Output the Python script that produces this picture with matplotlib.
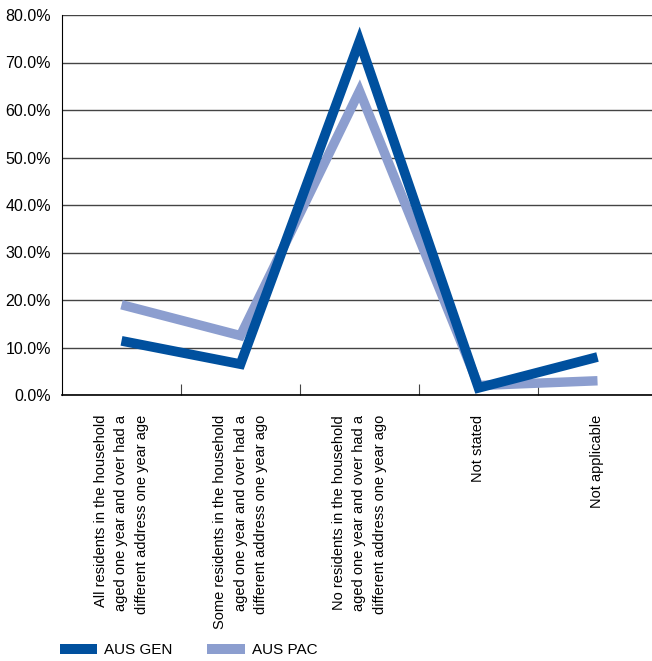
import matplotlib
matplotlib.use("Agg")
import matplotlib.pyplot as plt
from matplotlib.lines import Line2D
from matplotlib.ticker import FuncFormatter

plt.rcParams['font.family'] = ['Liberation Sans', 'DejaVu Sans']

categories = [
    "All residents in the household\naged one year and over had a\ndifferent address one year age",
    "Some residents in the household\naged one year and over had a\ndifferent address one year ago",
    "No residents in the household\naged one year and over had a\ndifferent address one year ago",
    "Not stated",
    "Not applicable",
]
aus_gen = [11.4, 6.5, 74.5, 1.5, 8.0]
aus_pac = [19.0, 12.5, 64.0, 2.0, 3.0]

gen_color = "#00509e"
pac_color = "#8c9ecf"

fig = plt.figure(figsize=(6.52, 6.61), dpi=100)
ax = fig.add_axes([62 / 652, 266 / 661, 595 / 652, 380 / 661])

x = list(range(len(categories)))
ax.plot(x, aus_pac, color=pac_color, lw=6.8, solid_joinstyle="miter",
        solid_capstyle="butt", zorder=3)
ax.plot(x, aus_gen, color=gen_color, lw=7.0, solid_joinstyle="miter",
        solid_capstyle="butt", zorder=4)

ax.set_xlim(-0.5, len(categories) - 0.5)
ax.set_ylim(0, 80)
ax.set_yticks(range(0, 81, 10))
ax.yaxis.set_major_formatter(FuncFormatter(lambda v, p: f"{v:.1f}%"))
ax.grid(axis="y", color="#444444", lw=1)
ax.set_axisbelow(True)

for s in ["right", "top"]:
    ax.spines[s].set_visible(False)
ax.spines["left"].set_color("black")
ax.spines["bottom"].set_color("black")
ax.spines["bottom"].set_linewidth(1.2)

# ticks between categories on the x axis
ax.set_xticks([i + 0.5 for i in range(len(categories) - 1)])
ax.set_xticklabels([])
ax.tick_params(axis="x", direction="in", length=8, color="#444444")
ax.tick_params(axis="y", length=0, pad=8, labelsize=11.5)

for i, c in enumerate(categories):
    ax.text(i, -4.2, c, rotation=90, ha="center", va="top",
            multialignment="right", fontsize=10.5, linespacing=1.6,
            transform=ax.transData, clip_on=False)

handles = [Line2D([], [], color=gen_color, lw=7.2, solid_capstyle="butt"),
           Line2D([], [], color=pac_color, lw=7.2, solid_capstyle="butt")]
fig.legend(handles, ["AUS GEN", "AUS PAC"], loc="center left",
           bbox_to_anchor=(52 / 652, 11 / 661), ncol=2, frameon=False,
           fontsize=11, handlelength=2.45, handletextpad=0.45,
           columnspacing=2.3, borderpad=0)

fig.savefig("out.png", dpi=100)
